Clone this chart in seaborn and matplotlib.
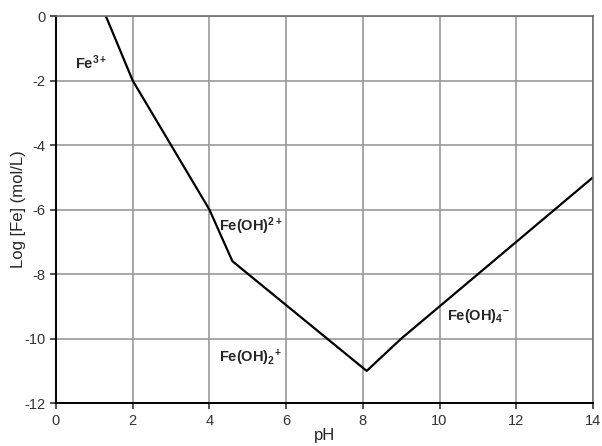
import pandas as pd
import seaborn as sns
import matplotlib.pyplot as plt

# solubility line
ph = [1.3, 2.0, 4.0, 4.6, 8.1, 9.0, 14.0]
log_fe = [0.0, -2.0, -6.0, -7.6, -11.0, -10.0, -5.0]

species = ['Fe$^{3+}$', 'Fe(OH)$^{2+}$', 'Fe(OH)$_2$$^{+}$', 'Fe(OH)$_4$$^{-}$']
label_x = [0.5, 4.25, 4.25, 10.2]
label_y = [-1.45, -6.5, -10.6, -9.3]

df = pd.DataFrame({'pH': ph, 'logFe': log_fe})

sns.set_style('white')
plt.rcParams['font.family'] = ['Liberation Sans', 'DejaVu Sans']
plt.rcParams['axes.unicode_minus'] = False
plt.rcParams['mathtext.fontset'] = 'custom'
plt.rcParams['mathtext.rm'] = 'Liberation Sans:bold'
plt.rcParams['mathtext.it'] = 'Liberation Sans:bold'

fig, ax = plt.subplots(figsize=(6.02, 4.46), dpi=100)
fig.subplots_adjust(left=0.093, right=0.985, top=0.964, bottom=0.096)

sns.lineplot(data=df, x='pH', y='logFe', color='black', linewidth=1.6, ax=ax, sort=False)

for name, x, y in zip(species, label_x, label_y):
    ax.text(x, y, name, fontsize=10.5, fontweight='bold', va='center')

ax.set_xlim(0, 14)
ax.set_ylim(-12, 0)
ax.set_xticks(range(0, 15, 2))
ax.set_yticks(range(-12, 1, 2))
ax.grid(True, color='#9a9a9a', linewidth=1.2)
ax.set_axisbelow(True)
for side in ['top', 'right']:
    ax.spines[side].set_color('#707070')
    ax.spines[side].set_linewidth(1.2)
for side in ['left', 'bottom']:
    ax.spines[side].set_color('black')
    ax.spines[side].set_linewidth(1.4)
ax.tick_params(axis='both', labelsize=10.5, length=4, width=1.2, direction='out',
               colors='#333333', left=True, bottom=True)
ax.set_xlabel('pH', fontsize=12, labelpad=0)
ax.set_ylabel('Log [Fe] (mol/L)', fontsize=12, labelpad=-1)

fig.savefig('out.png', dpi=100)
